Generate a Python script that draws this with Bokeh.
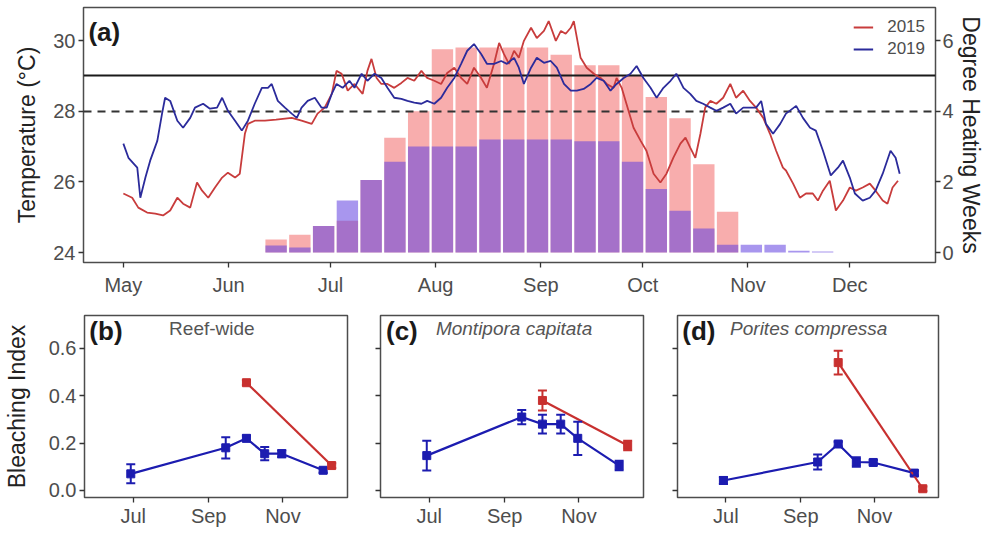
from bokeh.plotting import figure
from bokeh.models import (Range1d, LinearAxis, FixedTicker, Label, Legend, LegendItem,
                          ColumnDataSource, Whisker, TeeHead, CustomJSTickFormatter,
                          NumeralTickFormatter)
from bokeh.layouts import column, row
from bokeh.embed import file_html
from bokeh.resources import INLINE

FONT = "Liberation Sans"

# ---------------- Panel (a) data: daily temperature (day of year) ----------------
doy_2019 = [121.0, 122.5, 125.1, 126.0, 127.5, 128.9, 131.0, 132.4, 133.3, 134.8,
            136.9, 138.6, 140.7, 142.1, 144.5, 146.5, 148.6, 150.1, 151.8, 153.9,
            155.9, 157.7, 159.7, 161.8, 163.6, 164.7, 166.5, 168.6, 170.6, 172.1,
            173.5, 175.3, 177.4, 179.4, 180.9, 182.4, 183.8, 185.6, 187.6, 189.1,
            191.2, 192.9, 195.0, 197.0, 198.8, 200.8, 202.9, 204.7, 206.7, 208.8,
            210.5, 212.6, 214.6, 216.4, 218.5, 220.5, 222.3, 224.3, 226.4, 228.1,
            230.2, 232.3, 234.0, 236.1, 237.5, 239.0, 241.1, 242.8, 244.9, 246.9,
            248.7, 250.8, 252.8, 254.6, 256.6, 258.7, 260.4, 262.5, 264.5, 266.3,
            268.4, 270.4, 272.2, 274.2, 276.3, 278.1, 280.1, 282.2, 283.9, 286.0,
            288.0, 289.8, 291.8, 293.9, 295.7, 297.7, 299.8, 301.5, 303.6, 305.6,
            307.4, 308.9, 310.3, 312.4, 314.5, 316.2, 319.2, 321.2, 323.3, 325.0,
            327.1, 329.4, 331.5, 333.0, 335.0, 336.5, 338.8, 340.9, 342.6, 344.7,
            347.0, 348.5, 349.7]
temp_2019 = [27.08, 26.68, 26.40, 25.55, 26.12, 26.60, 27.16, 27.93, 28.38, 28.29,
             27.73, 27.53, 27.81, 28.10, 28.21, 28.07, 28.10, 28.38, 28.01, 27.73,
             27.45, 27.73, 28.21, 28.66, 28.66, 28.77, 28.29, 28.10, 27.93, 27.81,
             28.10, 28.29, 28.38, 28.10, 28.10, 28.49, 28.77, 28.66, 28.86, 28.66,
             29.06, 28.86, 29.06, 28.94, 28.66, 28.38, 28.35, 28.29, 28.24, 28.21,
             28.29, 28.21, 28.38, 28.66, 28.94, 29.34, 29.71, 29.90, 29.62, 29.34,
             29.34, 29.42, 29.34, 29.51, 29.23, 28.77, 29.23, 29.51, 29.37, 29.42,
             29.23, 28.77, 28.58, 28.58, 28.63, 28.77, 28.94, 28.86, 28.58, 28.77,
             28.94, 29.06, 29.28, 28.94, 28.66, 28.38, 28.66, 28.86, 29.06, 28.66,
             28.49, 28.29, 28.21, 28.10, 28.01, 28.10, 28.21, 27.93, 28.10, 28.10,
             28.10, 28.29, 27.64, 27.36, 27.64, 27.93, 28.15, 27.81, 27.53, 27.45,
             26.88, 26.18, 26.40, 26.60, 26.12, 25.67, 25.47, 25.55, 25.75, 26.23,
             26.88, 26.68, 26.23]

doy_2015 = [121.0, 123.6, 125.4, 128.0, 130.4, 132.7, 134.8, 136.9, 138.6, 140.7,
            142.7, 144.2, 146.0, 148.0, 150.1, 151.8, 153.9, 155.3, 156.8, 157.7,
            159.7, 162.7, 166.0, 170.6, 173.5, 176.5, 178.2, 180.3, 182.4, 183.8,
            185.3, 187.1, 189.1, 191.5, 192.9, 194.1, 195.6, 197.0, 198.8, 200.8,
            202.9, 204.7, 206.7, 208.8, 210.5, 212.6, 214.6, 216.4, 218.5, 220.5,
            222.3, 224.3, 226.4, 228.1, 230.2, 231.7, 233.1, 234.6, 236.1, 237.5,
            239.0, 241.1, 242.8, 244.9, 246.3, 248.4, 249.9, 251.3, 252.8, 253.7,
            255.7, 257.5, 259.6, 261.6, 263.4, 265.4, 266.3, 267.8, 269.2, 271.3,
            273.4, 275.1, 277.2, 279.2, 281.0, 283.0, 285.1, 286.6, 288.0, 289.5,
            291.0, 292.4, 293.9, 295.7, 297.7, 299.8, 301.5, 303.6, 305.6, 307.4,
            309.5, 311.5, 313.3, 315.3, 316.2, 318.3, 320.3, 322.1, 324.1, 325.6,
            327.1, 329.1, 330.9, 333.0, 335.0, 336.8, 338.8, 340.9, 342.6, 344.7,
            346.1, 347.6, 349.2]
temp_2015 = [25.67, 25.55, 25.27, 25.13, 25.10, 25.05, 25.19, 25.55, 25.38, 25.27,
             25.98, 25.75, 25.55, 25.84, 26.12, 26.26, 26.12, 26.23, 27.36, 27.64,
             27.73, 27.73, 27.76, 27.81, 27.73, 27.64, 27.93, 28.10, 28.49, 29.14,
             29.06, 28.58, 28.77, 28.49, 29.14, 29.48, 28.94, 28.77, 28.77, 28.66,
             28.80, 28.94, 28.86, 29.14, 28.94, 28.86, 28.77, 29.08, 29.23, 28.94,
             28.77, 29.23, 28.94, 28.66, 29.34, 29.93, 29.62, 29.34, 29.71, 29.51,
             29.99, 30.36, 30.07, 30.27, 30.55, 29.99, 30.27, 30.19, 30.36, 30.55,
             29.51, 29.23, 29.06, 28.94, 28.77, 28.66, 28.94, 28.66, 28.21, 27.53,
             27.16, 26.88, 26.23, 25.98, 26.23, 26.68, 27.08, 27.25, 26.97, 26.68,
             27.36, 28.10, 28.29, 28.21, 28.38, 28.77, 28.38, 28.58, 28.29, 28.10,
             27.81, 27.36, 26.88, 26.40, 26.32, 25.95, 25.55, 25.67, 25.67, 25.47,
             25.75, 26.03, 25.19, 25.47, 25.84, 25.75, 25.84, 25.95, 25.75, 25.47,
             25.38, 25.84, 26.03]

# weekly Degree Heating Weeks
week_doy = [166, 173, 180, 187, 194, 201, 208, 215, 222, 229, 236, 243,
            250, 257, 264, 271, 278, 285, 292, 299, 306, 313, 320, 327]
dhw_2015 = [0.37, 0.50, 0.75, 0.90, 2.05, 3.25, 4.00, 5.75, 5.80, 5.80, 5.80, 5.80,
            5.60, 5.30, 5.30, 5.00, 4.40, 3.80, 2.50, 1.15, 0.00, 0.00, 0.00, 0.00]
dhw_2019 = [0.20, 0.14, 0.75, 1.47, 2.05, 2.57, 3.00, 3.00, 3.00, 3.20, 3.20, 3.20,
            3.20, 3.15, 3.15, 2.57, 1.80, 1.18, 0.68, 0.22, 0.22, 0.22, 0.05, 0.03]

BLEACH_THRESHOLD = 29.0
MMM = 28.0

month_ticks = [121, 152, 182, 213, 244, 274, 305, 335]
month_labels = ["May", "Jun", "Jul", "Aug", "Sep", "Oct", "Nov", "Dec"]

# ---------------- Panels (b)-(d) data ----------------
survey_2019 = [180, 258, 275, 290, 304, 338]
survey_2015 = [275, 345]
bi_ticks = [0.0, 0.2, 0.4, 0.6]
small_ticks = [182, 244, 305]
small_labels = ["Jul", "Sep", "Nov"]

reef_2019 = [0.07, 0.18, 0.22, 0.155, 0.155, 0.085]
reef_2019_err = [0.04, 0.045, 0.012, 0.028, 0.015, 0.01]
reef_2015 = [0.455, 0.105]
reef_2015_err = [0.01, 0.01]

mcap_2019 = [0.147, 0.31, 0.28, 0.28, 0.22, 0.105]
mcap_2019_err = [0.063, 0.03, 0.04, 0.04, 0.07, 0.02]
mcap_2015 = [0.38, 0.19]
mcap_2015_err = [0.042, 0.02]

pcom_2019 = [0.042, 0.12, 0.196, 0.12, 0.118, 0.073]
pcom_2019_err = [0.015, 0.032, 0.01, 0.02, 0.01, 0.01]
pcom_2015 = [0.54, 0.007]
pcom_2015_err = [0.05, 0.01]

RED_LINE = "#C83C3C"
BLUE_LINE = "#2B2B9B"
RED_PT = "#C8302F"
BLUE_PT = "#1C1CB0"
TICK_COL = "#4d4d4d"
TITLE_COL = "#222222"


def style_axis(ax, tick_size="20px", label_size="23px", standoff=10, lab_standoff=3):
    ax.major_label_text_font = FONT
    ax.major_label_text_font_size = tick_size
    ax.major_label_text_color = TICK_COL
    ax.axis_label_text_font = FONT
    ax.axis_label_text_font_size = label_size
    ax.axis_label_text_font_style = "normal"
    ax.axis_label_text_color = TITLE_COL
    ax.axis_label_standoff = standoff
    ax.major_label_standoff = lab_standoff
    ax.axis_line_color = None
    ax.major_tick_line_color = "#333333"
    ax.major_tick_line_width = 1.3
    ax.major_tick_out = 5
    ax.major_tick_in = 0
    ax.minor_tick_line_color = None


# ---------------- Panel (a) ----------------
p_a = figure(width=986, height=302, x_range=Range1d(109.26, 360.25),
             y_range=Range1d(23.717, 30.934), output_backend="svg", toolbar_location=None,
             min_border_left=83, min_border_right=48, min_border_top=7, min_border_bottom=40)
p_a.extra_y_ranges = {"dhw": Range1d(-0.283, 6.934)}
p_a.xgrid.visible = False
p_a.ygrid.visible = False
p_a.outline_line_color = "#4d4d4d"
p_a.outline_line_width = 1.5
p_a.background_fill_color = "white"
p_a.border_fill_color = "white"

bar_src = ColumnDataSource(dict(doy=week_doy, d15=dhw_2015, d19=dhw_2019))
p_a.vbar(x="doy", top="d15", bottom=0, width=6.3, source=bar_src, fill_color="#EE3B3B",
         fill_alpha=0.42, line_color=None, y_range_name="dhw")
p_a.vbar(x="doy", top="d19", bottom=0, width=6.3, source=bar_src, fill_color="#6040E0",
         fill_alpha=0.55, line_color=None, y_range_name="dhw")

p_a.hspan(y=[BLEACH_THRESHOLD], line_color="#1a1a1a", line_width=2)
p_a.hspan(y=[MMM], line_color="#333333", line_width=2, line_dash="8 6")

r15 = p_a.line(doy_2015, temp_2015, line_color=RED_LINE, line_width=1.8)
r19 = p_a.line(doy_2019, temp_2019, line_color=BLUE_LINE, line_width=1.8)

p_a.xaxis.ticker = FixedTicker(ticks=month_ticks)
p_a.xaxis.major_label_overrides = {t: l for t, l in zip(month_ticks, month_labels)}
p_a.yaxis.ticker = FixedTicker(ticks=[24, 26, 28, 30])
p_a.yaxis.axis_label = "Temperature (°C)"
style_axis(p_a.xaxis[0], lab_standoff=6)
style_axis(p_a.yaxis[0], standoff=10)

ax_r = LinearAxis(y_range_name="dhw", axis_label="Degree Heating Weeks",
                  ticker=FixedTicker(ticks=[0, 2, 4, 6]))
style_axis(ax_r, standoff=1, lab_standoff=2)
p_a.add_layout(ax_r, "right")

legend = Legend(items=[LegendItem(label="2015", renderers=[r15]),
                       LegendItem(label="2019", renderers=[r19])],
                location="top_right")
legend.border_line_color = None
legend.background_fill_alpha = 0
legend.label_text_font = FONT
legend.label_text_font_size = "17px"
legend.label_text_color = TICK_COL
legend.glyph_width = 20
legend.glyph_height = 20
legend.label_height = 20
legend.label_standoff = 14
legend.padding = 5
legend.margin = 10
legend.spacing = 2
p_a.add_layout(legend)

p_a.add_layout(Label(x=110.7, y=30.66, text="(a)", text_font=FONT, text_font_size="26px",
                     text_font_style="bold", text_baseline="top", text_color="#1a1a1a"))


# ---------------- Panels (b)-(d) ----------------
def make_panel(letter, title, italic, v19, e19, v15, e15, width, lb, rb, show_y,
               letter_x, title_x):
    p = figure(width=width, height=232, x_range=Range1d(142, 358),
               y_range=Range1d(-0.03, 0.739), output_backend="svg", toolbar_location=None,
               min_border_left=lb, min_border_right=rb, min_border_top=13,
               min_border_bottom=37)
    p.xgrid.visible = False
    p.ygrid.visible = False
    p.outline_line_color = "#4d4d4d"
    p.outline_line_width = 1.5
    p.background_fill_color = "white"
    p.border_fill_color = "white"

    s19 = ColumnDataSource(dict(x=survey_2019, y=v19,
                                lo=[a - b for a, b in zip(v19, e19)],
                                hi=[a + b for a, b in zip(v19, e19)]))
    s15 = ColumnDataSource(dict(x=survey_2015, y=v15,
                                lo=[a - b for a, b in zip(v15, e15)],
                                hi=[a + b for a, b in zip(v15, e15)]))

    p.line("x", "y", source=s19, line_color=BLUE_PT, line_width=2.2)
    w19 = Whisker(base="x", lower="lo", upper="hi", source=s19, line_color=BLUE_PT,
                  line_width=2, level="glyph",
                  upper_head=TeeHead(size=9, line_color=BLUE_PT, line_width=2),
                  lower_head=TeeHead(size=9, line_color=BLUE_PT, line_width=2))
    p.add_layout(w19)
    p.scatter("x", "y", source=s19, marker="square", size=8, color=BLUE_PT)

    p.line("x", "y", source=s15, line_color=RED_PT, line_width=2.2)
    w15 = Whisker(base="x", lower="lo", upper="hi", source=s15, line_color=RED_PT,
                  line_width=2, level="glyph",
                  upper_head=TeeHead(size=9, line_color=RED_PT, line_width=2),
                  lower_head=TeeHead(size=9, line_color=RED_PT, line_width=2))
    p.add_layout(w15)
    p.scatter("x", "y", source=s15, marker="square", size=8, color=RED_PT)

    p.xaxis.ticker = FixedTicker(ticks=small_ticks)
    p.xaxis.major_label_overrides = {t: l for t, l in zip(small_ticks, small_labels)}
    p.yaxis.ticker = FixedTicker(ticks=bi_ticks)
    style_axis(p.xaxis[0], lab_standoff=2)
    style_axis(p.yaxis[0], standoff=16)
    if show_y:
        p.yaxis.formatter = NumeralTickFormatter(format="0.0")
        p.yaxis.axis_label = "Bleaching Index"
    else:
        p.yaxis.formatter = CustomJSTickFormatter(code="return ''")

    p.add_layout(Label(x=letter_x, y=0.735, text=letter, text_font=FONT, text_font_size="26px",
                       text_font_style="bold", text_baseline="top", text_color="#1a1a1a"))
    p.add_layout(Label(x=title_x, y=0.684, text=title, text_font=FONT, text_font_size="19px",
                       text_font_style="italic" if italic else "normal",
                       text_baseline="middle", text_color="#555555"))
    return p


p_b = make_panel("(b)", "Reef-wide", False, reef_2019, reef_2019_err, reef_2015,
                 reef_2015_err, 360, 83, 13, True, 146.0, 211.5)
p_c = make_panel("(c)", "Montipora capitata", True, mcap_2019, mcap_2019_err, mcap_2015,
                 mcap_2015_err, 297, 20, 14, False, 146.5, 187.5)
p_d = make_panel("(d)", "Porites compressa", True, pcom_2019, pcom_2019_err, pcom_2015,
                 pcom_2015_err, 329, 20, 48, False, 146.0, 185.5)

layout = column(p_a, row(p_b, p_c, p_d, spacing=0), spacing=0)

with open("out.html", "w") as f:
    f.write(file_html(layout, INLINE))
